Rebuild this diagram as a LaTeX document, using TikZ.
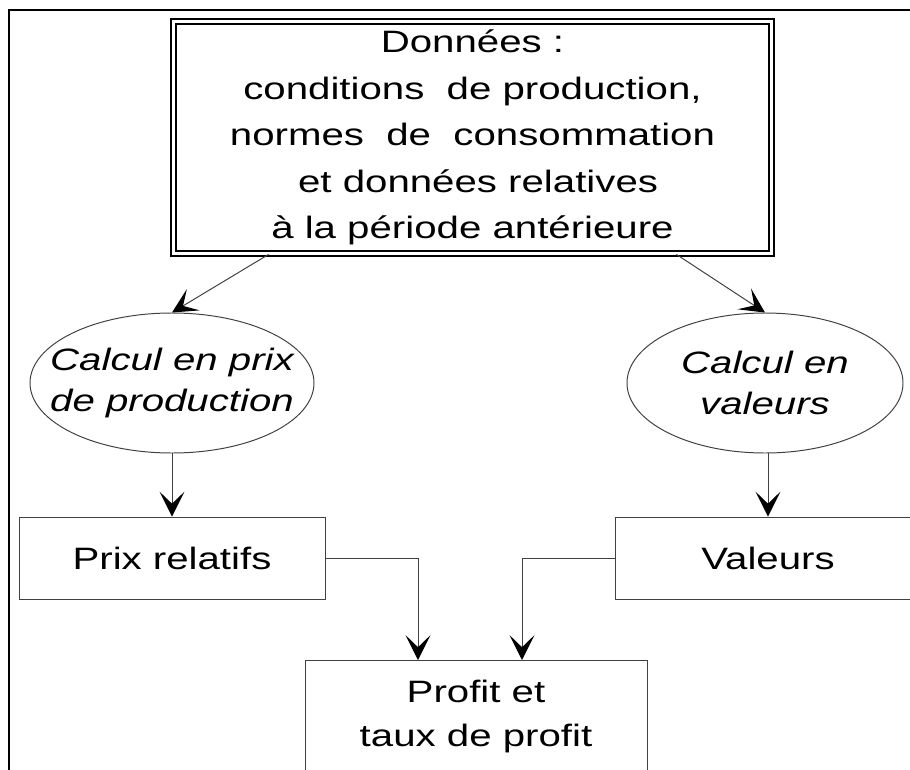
\documentclass[tikz,border=0pt]{standalone}
\usepackage{fontspec}
\setmainfont{Liberation Sans}[FakeStretch=1.3]
\usetikzlibrary{shapes.geometric,arrows.meta,calc}
\newlength{\px}
\setlength{\px}{0.025cm}

\begin{document}
\begin{tikzpicture}[x=0.025cm,y=-0.025cm,
    txt/.style={align=center, font=\fontsize{22}{31}\selectfont},
    box/.style={txt, rectangle, draw=black!75, line width=0.7pt, inner sep=0pt},
    oval/.style={txt, ellipse, draw=black!75, line width=0.7pt, inner sep=-40pt,
        font=\fontsize{22}{29}\selectfont\itshape},
    arr/.style={draw=black!75, line width=0.7pt,
        -{Stealth[length=0.62cm,width=0.62cm,inset=0.3cm,color=black]}}]

            \useasboundingbox (0,0) rectangle (910,770);
            \draw[line width=1.8pt] (9,770) -- (9,10) -- (910,10);

            \node (donnees) [box, draw=black, double, line width=1.4pt, double distance=2.1pt,
                minimum width=598\px, minimum height=232\px, font=\fontsize{22}{33}\selectfont]
                at (472.5,137.5) {Données :\\conditions~ de production,\\normes~ de~ consommation\\
                \ et données relatives\\à la période antérieure};

            \node (calcprix) [oval, minimum width=284\px, minimum height=140\px] at (172,383)
                {Calcul en prix\\de production};
            \node (calcval) [oval, minimum width=276\px, minimum height=140\px] at (765,383)
                {Calcul en\\valeurs};

            \node (prixrel) [box, minimum width=306\px, minimum height=82\px] at (172,558) {Prix relatifs};
            \node (valeurs) [box, minimum width=306\px, minimum height=82\px] at (768,558) {Valeurs};

            \node (profit) [box, anchor=north, minimum width=342\px, inner ysep=20\px] at (476,660)
                {Profit et\\taux de profit\\[40\px]\mbox{}};

            \draw[arr] ($(donnees.south)+(-204,0)$) -- (calcprix.north);
            \draw[arr] ($(donnees.south)+(204,0)$) -- (calcval.north);
            \draw[arr] (calcprix.south) -- (prixrel.north);
            \draw[arr] (calcval.south -| valeurs.north) -- (valeurs.north);
            \draw[arr] (prixrel.east) -| ($(profit.north)+(-58,0)$);
            \draw[arr] (valeurs.west) -| ($(profit.north)+(46,0)$);

        \end{tikzpicture}
\end{document}
